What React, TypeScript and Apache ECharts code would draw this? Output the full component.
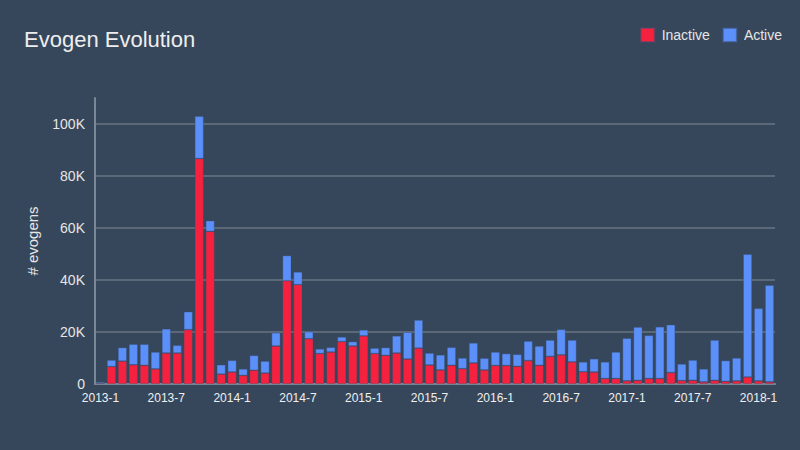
import React, { useEffect, useRef } from "react";
import * as echarts from "echarts";

const months: string[] = [];
for (let y = 2013; y <= 2018; y++) {
  for (let m = 1; m <= 12; m++) {
    if (y === 2018 && m > 2) break;
    months.push(`${y}-${m}`);
  }
}

const inactive = [
  0.3, 6.7, 8.8, 7.4, 7.2, 5.8, 11.9, 11.9, 20.9, 86.7, 58.7, 3.8,
  4.6, 3.3, 5.3, 4.2, 14.6, 39.7, 38.2, 17.4, 11.7, 12.3, 16.3, 14.6,
  18.5, 11.7, 11.0, 11.9, 9.6, 13.8, 7.3, 5.4, 7.2, 5.9, 8.1, 5.4,
  7.1, 7.1, 6.8, 9.0, 7.2, 10.6, 11.2, 8.5, 4.7, 4.6, 2.1, 2.1,
  1.2, 1.4, 2.1, 2.1, 4.4, 1.3, 1.4, 0.8, 1.4, 1.0, 1.2, 2.7,
  1.2, 0.8,
].map((v) => v * 1000);

const total = [
  0.8, 9.2, 14.0, 15.3, 15.3, 12.3, 21.2, 14.9, 27.8, 103.0, 62.8, 7.4,
  9.1, 5.8, 11.0, 8.8, 19.7, 49.4, 43.1, 20.1, 13.5, 14.1, 18.1, 16.3,
  20.8, 13.8, 14.0, 18.5, 19.9, 24.6, 11.9, 11.2, 14.1, 10.0, 15.8, 9.9,
  12.3, 11.7, 11.4, 16.5, 14.6, 16.9, 21.0, 16.9, 8.5, 9.7, 8.5, 12.3,
  17.6, 21.9, 18.7, 22.0, 22.8, 7.7, 9.2, 5.8, 16.9, 9.0, 10.0, 49.9,
  29.1, 38.0,
].map((v) => v * 1000);

const active = total.map((t, i) => Math.max(0, t - inactive[i]));

const yTicks = [0, 20000, 40000, 60000, 80000, 100000];

export default function App() {
  const ref = useRef<HTMLDivElement>(null);
  useEffect(() => {
    if (!ref.current) return;
    const chart = echarts.init(ref.current, undefined, { renderer: "svg" });
    const font = "Liberation Sans, Arial, sans-serif";
    chart.setOption({
      animation: false,
      backgroundColor: "#36475b",
      textStyle: { fontFamily: font },
      title: {
        text: "Evogen Evolution",
        left: 19,
        top: 23,
        textStyle: { color: "#eeeeee", fontSize: 22, fontWeight: "normal", fontFamily: font },
      },
      legend: {
        right: 13,
        top: 22,
        itemWidth: 14,
        itemHeight: 14,
        itemGap: 12,
        icon: "rect",
        textStyle: { color: "#e6e6e6", fontSize: 14, fontFamily: font, padding: [0, 0, 0, 2] },
        data: ["Inactive", "Active"],
      },
      grid: { left: 95, right: 25, top: 98, bottom: 66, containLabel: false },
      xAxis: {
        type: "category",
        data: months,
        axisLine: { lineStyle: { color: "#7a8796", width: 2 } },
        axisTick: { show: false },
        axisLabel: { color: "#f0f0f0", fontSize: 12, interval: 5, margin: 8 },
      },
      yAxis: {
        type: "value",
        min: 0,
        max: 110000,
        interval: 20000,
        name: "# evogens",
        nameLocation: "middle",
        nameGap: 55,
        nameTextStyle: { color: "#e6e6e6", fontSize: 15 },
        axisLine: { show: true, lineStyle: { color: "#7a8796", width: 2 } },
        axisTick: { show: false },
        axisLabel: {
          color: "#e6e6e6",
          fontSize: 14,
          margin: 10,
          showMaxLabel: false,
          formatter: (v: number) => (yTicks.includes(v) ? (v === 0 ? "0" : v / 1000 + "K") : ""),
        },
        splitLine: { show: true, showMaxLine: false, lineStyle: { color: "#5b6878", width: 2 } },
      },
      series: [
        {
          name: "Inactive",
          type: "bar",
          stack: "total",
          data: inactive,
          barCategoryGap: "20%",
          itemStyle: { color: "#f5213f", borderColor: "rgba(60,80,110,0.5)", borderWidth: 0.6 },
        },
        {
          name: "Active",
          type: "bar",
          stack: "total",
          data: active,
          barCategoryGap: "20%",
          itemStyle: { color: "#5b8ff9", borderColor: "rgba(60,80,120,0.6)", borderWidth: 0.6 },
        },
      ],
    });
    return () => chart.dispose();
  }, []);
  return <div ref={ref} style={{ width: 800, height: 450, position: "absolute", left: 0, top: 0 }} />;
}
